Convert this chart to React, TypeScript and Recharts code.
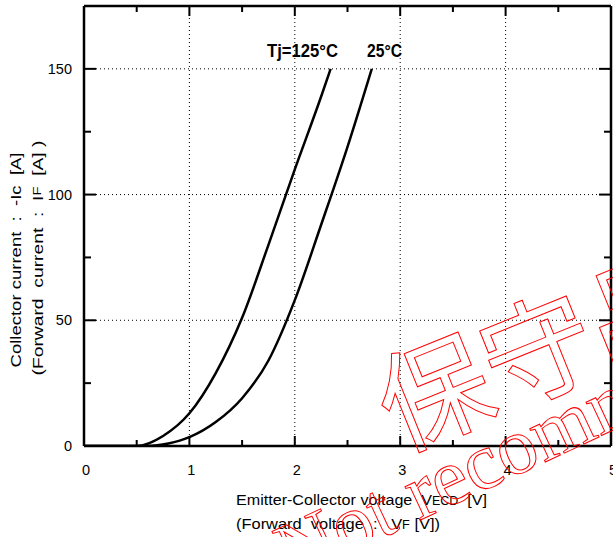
import { LineChart, Line, XAxis, YAxis, ReferenceLine } from 'recharts';

// Tj = 125°C curve (VECD [V] -> -Ic [A])
const vTj125 = [0, 0.5, 0.75, 1.0, 1.25, 1.5, 1.75, 2.0, 2.25, 2.34];
const iTj125 = [0, 0, 4, 13, 29, 51, 80, 110, 139, 150];

// Tj = 25°C curve
const vTj25 = [0, 0.6, 0.8, 1.0, 1.25, 1.5, 1.75, 2.0, 2.25, 2.5, 2.73];
const iTj25 = [0, 0, 1, 3.5, 9.5, 19, 34, 58, 88, 119, 150];

const xTicks = [0, 0.5, 1, 1.5, 2, 2.5, 3, 3.5, 4, 4.5, 5];
const yTicks = [0, 25, 50, 75, 100, 125, 150, 175];
const xMarks = [0.5, 1, 1.5, 2, 2.5, 3, 3.5, 4, 4.5];
const yMarks = [25, 50, 75, 100, 125, 150];

const pts125 = vTj125.map((v, k) => ({ v, i: iTj125[k] }));
const pts25 = vTj25.map((v, k) => ({ v, i: iTj25[k] }));

const FONT = '"Liberation Sans", Arial, sans-serif';

const isMajorX = (v: number) => Number.isInteger(v);
const isMajorY = (v: number) => v % 50 === 0;

function BottomTick(props: any) {
  const { x, y, payload } = props;
  if (!isMajorX(payload.value)) return <g />;
  return (
    <text x={x + 2} y={y + 24} textAnchor="middle" dominantBaseline="central"
      fontFamily={FONT} fontSize={14.5} fill="#000">{payload.value}</text>
  );
}

function LeftTick(props: any) {
  const { x, y, payload } = props;
  if (!isMajorY(payload.value) || payload.value > 150) return <g />;
  return (
    <text x={x - 12} y={y} textAnchor="end" dominantBaseline="central"
      fontFamily={FONT} fontSize={14.5} fill="#000">{payload.value}</text>
  );
}

// vertical grid line + inward ticks at top and bottom
const vMark = (major: boolean) => (p: any) => {
  const x = p.x1;
  const top = Math.min(p.y1, p.y2);
  const bot = Math.max(p.y1, p.y2);
  const len = major ? 10 : 6;
  return (
    <g>
      {major && <line x1={x} x2={x} y1={top} y2={bot} stroke="#000" strokeWidth={1} strokeDasharray="1 3" />}
      <line x1={x} x2={x} y1={bot} y2={bot - len} stroke="#000" strokeWidth={2} />
      <line x1={x} x2={x} y1={top} y2={top + len} stroke="#000" strokeWidth={2} />
    </g>
  );
};

// horizontal grid line + inward ticks left and right
const hMark = (major: boolean) => (p: any) => {
  const y = p.y1;
  const l = Math.min(p.x1, p.x2);
  const r = Math.max(p.x1, p.x2);
  const len = major ? 12 : 7;
  return (
    <g>
      {major && <line x1={l} x2={r} y1={y} y2={y} stroke="#000" strokeWidth={1} strokeDasharray="1 3" />}
      <line x1={l} x2={l + len} y1={y} y2={y} stroke="#000" strokeWidth={2} />
      <line x1={r} x2={r - len} y1={y} y2={y} stroke="#000" strokeWidth={2} />
    </g>
  );
};

const axisLine = { stroke: '#000', strokeWidth: 2.5 };

export default function App() {
  return (
    <div style={{ position: 'absolute', left: 0, top: 0, width: 613, height: 537, overflow: 'hidden', background: '#fff' }}>
      <LineChart width={613} height={537} margin={{ top: 6, right: 2, bottom: 0, left: 0 }}>
        <XAxis dataKey="v" type="number" domain={[0, 5]} ticks={xTicks} allowDataOverflow
          height={91} tickSize={0} tickMargin={0} tickLine={false} axisLine={axisLine}
          tick={<BottomTick />} interval={0} />
        <YAxis type="number" domain={[0, 175]} ticks={yTicks} allowDataOverflow width={84}
          tickSize={0} tickMargin={0} tickLine={false} axisLine={axisLine} tick={<LeftTick />} interval={0} />
        {xMarks.map((g) => (
          <ReferenceLine key={'gx' + g} x={g} shape={vMark(isMajorX(g))} />
        ))}
        {yMarks.map((g) => (
          <ReferenceLine key={'gy' + g} y={g} shape={hMark(isMajorY(g))} />
        ))}
        {/* frame: top and right */}
        <ReferenceLine x={5} stroke="#000" strokeWidth={2.5} />
        <ReferenceLine y={175} stroke="#000" strokeWidth={2.5} />
        <Line data={pts125} dataKey="i" type="monotone" stroke="#000" strokeWidth={2.5}
          dot={false} isAnimationActive={false} name="Tj=125°C" />
        <Line data={pts25} dataKey="i" type="monotone" stroke="#000" strokeWidth={2.5}
          dot={false} isAnimationActive={false} name="25°C" />
      </LineChart>
      <svg width={613} height={537} style={{ position: 'absolute', left: 0, top: 0, pointerEvents: 'none' }}>
        {/* curve labels */}
        <text x={267} y={57} fontFamily={FONT} fontWeight="bold" fontSize={19} textLength={71}
          lengthAdjust="spacingAndGlyphs" fill="#000">Tj=125°C</text>
        <text x={367} y={57} fontFamily={FONT} fontWeight="bold" fontSize={19} textLength={35}
          lengthAdjust="spacingAndGlyphs" fill="#000">25°C</text>

        {/* x axis title */}
        <text x={236} y={505} fontFamily={FONT} fontSize={15.5} fill="#000" textLength={251}
          lengthAdjust="spacingAndGlyphs" style={{ whiteSpace: 'pre' }}>
          Emitter-Collector voltage  V<tspan fontSize={12}>ECD</tspan>  [V]
        </text>
        <text x={236} y={529} fontFamily={FONT} fontSize={15.5} fill="#000" textLength={204}
          lengthAdjust="spacingAndGlyphs" style={{ whiteSpace: 'pre' }}>
          (Forward  voltage  :   V<tspan fontSize={12}>F</tspan> [V])
        </text>

        {/* y axis title */}
        <text x={15} y={260} transform="rotate(-90 15 260)" textAnchor="middle" dominantBaseline="central"
          fontFamily={FONT} fontSize={15} fill="#000" textLength={215} lengthAdjust="spacingAndGlyphs"
          style={{ whiteSpace: 'pre' }}>
          Collector current  :  -Ic  [A]
        </text>
        <text x={37} y={258} transform="rotate(-90 37 258)" textAnchor="middle" dominantBaseline="central"
          fontFamily={FONT} fontSize={15} fill="#000" textLength={235} lengthAdjust="spacingAndGlyphs"
          style={{ whiteSpace: 'pre' }}>
          (Forward  current  :  I<tspan fontSize={11.5}>F</tspan>  [A] )
        </text>

        {/* watermark */}
        <text x={398} y={452} transform="rotate(-22 398 452)" fontFamily='"Noto Sans CJK JP", sans-serif'
          fontSize={112} fill="none" stroke="#ff0000" strokeWidth={1}>保守品</text>
        <text x={292} y={580} transform="rotate(-25 292 580)" fontFamily='"Liberation Serif", serif'
          fontSize={80} fill="none" stroke="#ff0000" strokeWidth={1}>Not recommended</text>
      </svg>
    </div>
  );
}
